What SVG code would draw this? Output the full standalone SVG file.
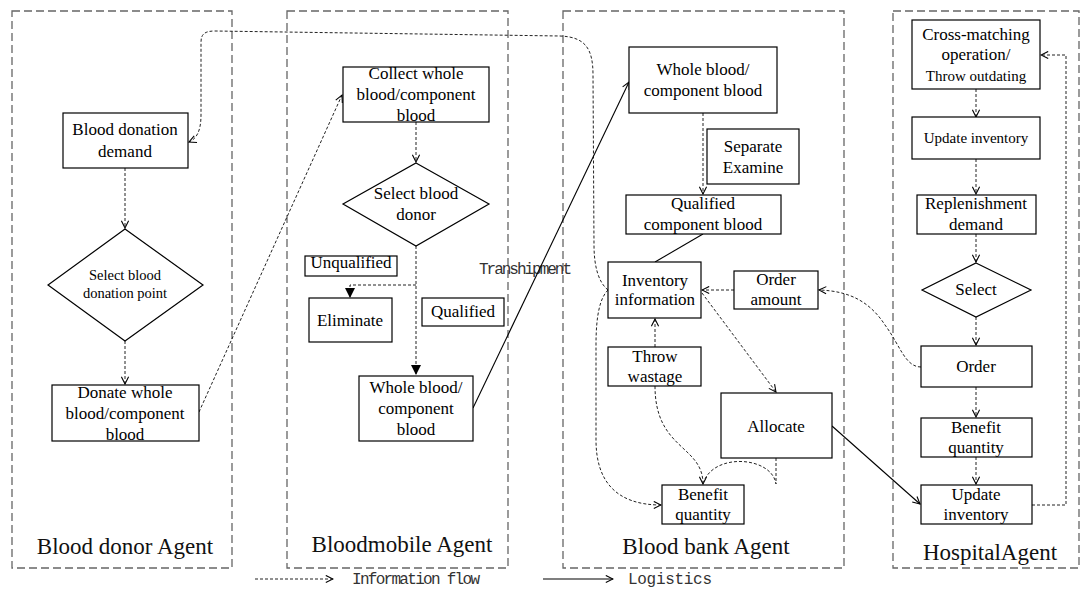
<svg xmlns="http://www.w3.org/2000/svg" width="1080" height="610" viewBox="0 0 1080 610">
<style>
.agent{fill:none;stroke:#666;stroke-width:1.3;stroke-dasharray:8 4}
.box{fill:#fff;stroke:#000;stroke-width:1.2}
.t{font-family:"Liberation Serif","Times New Roman",serif;font-size:17px;text-anchor:middle;fill:#000}
.s15{font-size:15px}
.s14{font-size:14.5px}
.lab{font-family:"Liberation Serif","Times New Roman",serif;font-size:23px;text-anchor:middle;fill:#111}
.mono{font-family:"Liberation Mono","DejaVu Sans Mono",monospace;font-size:16px;fill:#333}
.dash{fill:none;stroke:#222;stroke-width:1;stroke-dasharray:3 2}
.solid{fill:none;stroke:#000;stroke-width:1.1}
</style>
<defs>
<marker id="open" viewBox="0 0 10 10" refX="9" refY="5" markerWidth="9" markerHeight="9" markerUnits="userSpaceOnUse" orient="auto"><path d="M1,1 L9,5 L1,9" fill="none" stroke="#000" stroke-width="1.2"/></marker>
<marker id="tri" viewBox="0 0 10 10" refX="10" refY="5" markerWidth="11" markerHeight="10" markerUnits="userSpaceOnUse" orient="auto"><path d="M0,0 L10,5 L0,10 z" fill="#000"/></marker>
</defs>
<rect width="1080" height="610" fill="#fff"/>

<g id="agent-donor"><rect class="agent" x="12" y="11" width="220" height="557"/><text class="lab" x="125" y="554">Blood donor Agent</text></g>
<g id="agent-bloodmobile"><rect class="agent" x="287" y="11" width="221" height="557"/><text class="lab" x="402" y="552">Bloodmobile Agent</text></g>
<g id="agent-bank"><rect class="agent" x="563" y="11" width="281" height="557"/><text class="lab" x="706" y="554">Blood bank Agent</text></g>
<g id="agent-hospital"><rect class="agent" x="893" y="11" width="186" height="557"/><text class="lab" x="990" y="560">HospitalAgent</text></g>

<g id="connectors">
<path class="dash" d="M125,168 L125,228" marker-end="url(#open)"/>
<path class="dash" d="M125,341 L125,384" marker-end="url(#open)"/>
<path class="dash" d="M199,412 L342,95" marker-end="url(#open)"/>
<path class="dash" d="M608,290 C598,282 594,265 594,245 L593,75 C593,48 585,37 560,36 L215,31 C205,31 201,34 201,42 L201,115 C201,132 196,139 189,142" marker-end="url(#open)"/>
<path class="dash" d="M416,122 L416,162" marker-end="url(#open)"/>
<path class="dash" d="M416,246 L416,375" marker-end="url(#tri)"/>
<path class="dash" d="M416,285 L350,285 L350,298" marker-end="url(#tri)"/>
<text class="mono" x="479" y="274" font-size="15" fill="#555" textLength="93">Transhipment</text>
<path class="solid" d="M473,408 L629,82" marker-end="url(#open)"/>
<path class="dash" d="M703,113 L703,194" marker-end="url(#open)"/>
<path class="solid" d="M703,234 L655,262"/>
<path class="dash" d="M734,290 L702,290" marker-end="url(#open)"/>
<path class="dash" d="M921,367 C905,367 900,345 885,325 C870,302 850,291 819,290" marker-end="url(#open)"/>
<path class="dash" d="M655,347 L655,319" marker-end="url(#open)"/>
<path class="dash" d="M702,293 L776,392" marker-end="url(#open)"/>
<path class="dash" d="M608,290 C600,298 596,315 596,345 L596,440 C596,480 615,505 661,505" marker-end="url(#open)"/>
<path class="dash" d="M655,386 C655,450 703,445 703,484" marker-end="url(#open)"/>
<path class="dash" d="M776,458 L776,484 C772,456 712,452 703,484"/>
<path class="solid" d="M832,426 L920,504" marker-end="url(#open)"/>
<path class="dash" d="M976,89 L976,117" marker-end="url(#open)"/>
<path class="dash" d="M976,159 L976,194" marker-end="url(#open)"/>
<path class="dash" d="M976,234 L976,262" marker-end="url(#open)"/>
<path class="dash" d="M976,317 L976,345" marker-end="url(#open)"/>
<path class="dash" d="M976,387 L976,417" marker-end="url(#open)"/>
<path class="dash" d="M976,457 L976,484" marker-end="url(#open)"/>
<path class="dash" d="M1032,505 L1066,505 L1066,55 L1041,55" marker-end="url(#open)"/>
</g>

<g id="n-donation-demand"><rect class="box" x="63" y="113" width="125" height="55"/><text class="t" x="125" y="135">Blood donation</text><text class="t" x="125" y="157">demand</text></g>
<g id="n-select-point"><polygon class="box" points="125,229 203,285 125,341 48,285"/><text class="t s14" x="125" y="280">Select  blood</text><text class="t s14" x="125" y="298">donation point</text></g>
<g id="n-donate"><rect class="box" x="52" y="385" width="147" height="56"/><text class="t" x="125" y="398">Donate whole</text><text class="t" x="125" y="419">blood/component</text><text class="t" x="125" y="440">blood</text></g>

<g id="n-collect"><rect class="box" x="343" y="67" width="146" height="55"/><text class="t" x="416" y="79">Collect whole</text><text class="t" x="416" y="100">blood/component</text><text class="t" x="416" y="121">blood</text></g>
<g id="n-select-donor"><polygon class="box" points="416,163 489,204 416,246 343,204"/><text class="t" x="416" y="199">Select blood</text><text class="t" x="416" y="220">donor</text></g>
<g id="n-unqualified"><rect class="box" x="305" y="256" width="92" height="20"/><text class="t" x="351" y="268">Unqualified</text></g>
<g id="n-eliminate"><rect class="box" x="309" y="298" width="83" height="44"/><text class="t" x="350" y="326">Eliminate</text></g>
<g id="n-qualified"><rect class="box" x="422" y="298" width="82" height="28"/><text class="t" x="463" y="317">Qualified</text></g>
<g id="n-bm-whole"><rect class="box" x="359" y="376" width="114" height="65"/><text class="t" x="416" y="393">Whole blood/</text><text class="t" x="416" y="414">component</text><text class="t" x="416" y="435">blood</text></g>

<g id="n-bank-whole"><rect class="box" x="629" y="47" width="148" height="66"/><text class="t" x="703" y="75">Whole blood/</text><text class="t" x="703" y="96">component blood</text></g>
<g id="n-separate"><rect class="box" x="707" y="129" width="92" height="55"/><text class="t" x="753" y="152">Separate</text><text class="t" x="753" y="173">Examine</text></g>
<g id="n-qualified-comp"><rect class="box" x="626" y="195" width="155" height="39"/><text class="t" x="703" y="209">Qualified</text><text class="t" x="703" y="230">component blood</text></g>
<g id="n-inventory"><rect class="box" x="608" y="262" width="93" height="56"/><text class="t" x="655" y="286">Inventory</text><text class="t" x="655" y="305">information</text></g>
<g id="n-order-amount"><rect class="box" x="734" y="271" width="84" height="38"/><text class="t" x="776" y="285">Order</text><text class="t" x="776" y="305">amount</text></g>
<g id="n-throw"><rect class="box" x="608" y="347" width="93" height="39"/><text class="t" x="655" y="362">Throw</text><text class="t" x="655" y="382">wastage</text></g>
<g id="n-allocate"><rect class="box" x="721" y="393" width="111" height="65"/><text class="t" x="776" y="432">Allocate</text></g>
<g id="n-bank-benefit"><rect class="box" x="662" y="485" width="82" height="39"/><text class="t" x="703" y="500">Benefit</text><text class="t" x="703" y="520">quantity</text></g>

<g id="n-crossmatch"><rect class="box" x="912" y="20" width="128" height="69"/><text class="t" x="976" y="40">Cross-matching</text><text class="t" x="976" y="60">operation/</text><text class="t s15" x="976" y="81">Throw  outdating</text></g>
<g id="n-update1"><rect class="box" x="912" y="117" width="128" height="42"/><text class="t s15" x="976" y="143">Update inventory</text></g>
<g id="n-replenish"><rect class="box" x="917" y="195" width="119" height="39"/><text class="t" x="976" y="209">Replenishment</text><text class="t" x="976" y="230">demand</text></g>
<g id="n-select"><polygon class="box" points="976,263 1031,290 976,317 922,290"/><text class="t" x="976" y="295">Select</text></g>
<g id="n-order"><rect class="box" x="921" y="346" width="111" height="41"/><text class="t" x="976" y="372">Order</text></g>
<g id="n-hosp-benefit"><rect class="box" x="921" y="418" width="111" height="39"/><text class="t" x="976" y="433">Benefit</text><text class="t" x="976" y="453">quantity</text></g>
<g id="n-update2"><rect class="box" x="921" y="485" width="111" height="39"/><text class="t" x="976" y="500">Update</text><text class="t" x="976" y="520">inventory</text></g>

<g id="legend">
<path class="dash" d="M255,579 L333,579" marker-end="url(#open)"/>
<text class="mono" x="352" y="584" textLength="128">Information flow</text>
<path class="solid" d="M543,579 L613,579" marker-end="url(#open)"/>
<text class="mono" x="628" y="584" textLength="84">Logistics</text>
</g>
</svg>
